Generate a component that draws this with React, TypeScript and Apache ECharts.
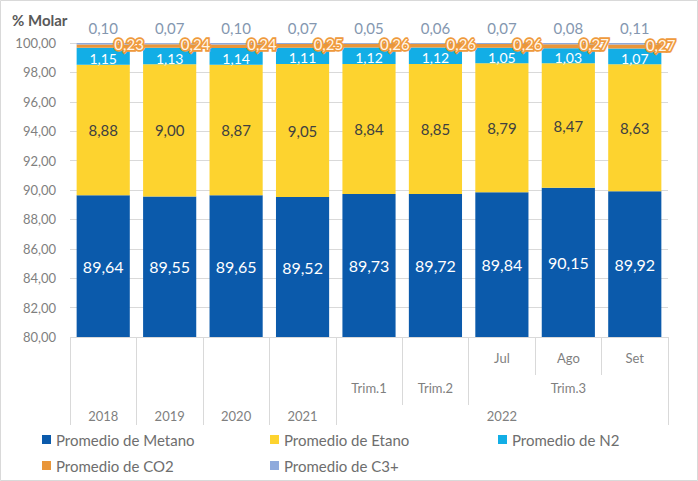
import React, { useEffect, useRef } from "react";
import * as echarts from "echarts";

const monthLabels = ["", "", "", "", "", "", "Jul", "Ago", "Set"];
const trimLabels = ["", "", "", "", "Trim.1", "Trim.2", "", "Trim.3", ""];
const yearLabels = ["2018", "2019", "2020", "2021", "", "", "2022", "", ""];

const metano = [89.64, 89.55, 89.65, 89.52, 89.73, 89.72, 89.84, 90.15, 89.92];
const etano = [8.88, 9.0, 8.87, 9.05, 8.84, 8.85, 8.79, 8.47, 8.63];
const n2 = [1.15, 1.13, 1.14, 1.11, 1.12, 1.12, 1.05, 1.03, 1.07];
const co2 = [0.23, 0.24, 0.24, 0.25, 0.26, 0.26, 0.26, 0.27, 0.27];
const c3 = [0.1, 0.07, 0.1, 0.07, 0.05, 0.06, 0.07, 0.08, 0.11];

const FONT = "Lato, 'Liberation Sans', sans-serif";
const fmt = (v: number) => v.toFixed(2).replace(".", ",");
const GRAY = "#d9d9d9";
const TXT = "#7f7f7f";

export default function App() {
  const ref = useRef<HTMLDivElement>(null);
  useEffect(() => {
    document.body.style.margin = "0";
    const chart = echarts.init(ref.current!, null, { renderer: "svg" });
    const mkX = (data: string[], offset: number, len: number, margin: number, tickFn: (i: number) => boolean) => ({
      type: "category",
      data,
      position: "bottom",
      offset,
      axisLine: { show: false },
      axisTick: {
        show: true,
        length: len,
        interval: (i: number) => tickFn(i),
        lineStyle: { color: GRAY, width: 1 },
      },
      axisLabel: { interval: 0, margin, color: TXT, fontSize: 13, fontFamily: FONT },
      splitLine: { show: false },
    });
    const lbl = (color: string, size: number, extra: any = {}) => ({
      show: true,
      formatter: (p: any) => fmt(p.value),
      color,
      fontSize: size,
      fontFamily: FONT,
      ...extra,
    });
    const legendText = { fontSize: 15, color: "#6e6e6e", fontFamily: FONT };
    const mkLegend = (left: number, data: string[]) => ({
      left,
      top: 432,
      orient: "vertical",
      padding: 0,
      itemWidth: 9,
      itemHeight: 9,
      itemGap: 11,
      icon: "rect",
      data,
      textStyle: legendText,
      selectedMode: false,
    });
    chart.setOption({
      animation: false,
      textStyle: { fontFamily: FONT },
      grid: { left: 70, right: 30, top: 43, bottom: 144 },
      xAxis: [
        mkX(monthLabels, 0, 38, 14, () => true),
        mkX(trimLabels, 38, 30, 6, (i) => i <= 6),
        mkX(yearLabels, 68, 20, 4, (i) => i <= 4),
      ],
      yAxis: {
        type: "value",
        min: 80,
        max: 100,
        interval: 2,
        axisLine: { show: false },
        axisTick: { show: false },
        axisLabel: { formatter: (v: number) => fmt(v), color: TXT, fontSize: 13, margin: 14, fontFamily: FONT },
        splitLine: { lineStyle: { color: GRAY, width: 1 } },
      },
      legend: [
        mkLegend(42, ["Promedio de Metano", "Promedio de CO2"]),
        mkLegend(270, ["Promedio de Etano", "Promedio de C3+"]),
        mkLegend(498, ["Promedio de N2"]),
      ],
      graphic: [
        {
          type: "rect",
          shape: { x: 0.5, y: 0.5, width: 697, height: 480 },
          style: { fill: "none", stroke: GRAY, lineWidth: 1 },
          silent: true,
        },
        {
          type: "text",
          left: 12,
          top: 12,
          style: { text: "% Molar", fontSize: 15, fontWeight: "bold", fill: "#595959", fontFamily: FONT },
        },
      ],
      series: [
        {
          name: "Promedio de Metano",
          type: "bar",
          stack: "t",
          barCategoryGap: "20%",
          data: metano,
          itemStyle: { color: "#0b5aab" },
          label: lbl("#ffffff", 16, { position: "inside" }),
        },
        {
          name: "Promedio de Etano",
          type: "bar",
          stack: "t",
          data: etano,
          itemStyle: { color: "#fdd32f" },
          label: lbl("#404040", 15, { position: "inside" }),
        },
        {
          name: "Promedio de N2",
          type: "bar",
          stack: "t",
          data: n2,
          itemStyle: { color: "#12aee6" },
          label: lbl("#ffffff", 14, { position: "inside", offset: [0, 2] }),
        },
        {
          name: "Promedio de CO2",
          type: "bar",
          stack: "t",
          data: co2,
          itemStyle: { color: "#e9963a" },
          label: lbl("#fff6e8", 15, {
            position: ["93%", "50%"],
            align: "center",
            verticalAlign: "middle",
            offset: [3, -2],
            textBorderColor: "#ef9a3c",
            textBorderWidth: 3.5,
          }),
        },
        {
          name: "Promedio de C3+",
          type: "bar",
          stack: "t",
          data: c3,
          itemStyle: { color: "#8faadc" },
          label: lbl("#8497b0", 15, { position: "top", distance: 8 }),
        },
      ],
    });
    return () => chart.dispose();
  }, []);
  return <div ref={ref} style={{ width: 698, height: 481 }} />;
}
